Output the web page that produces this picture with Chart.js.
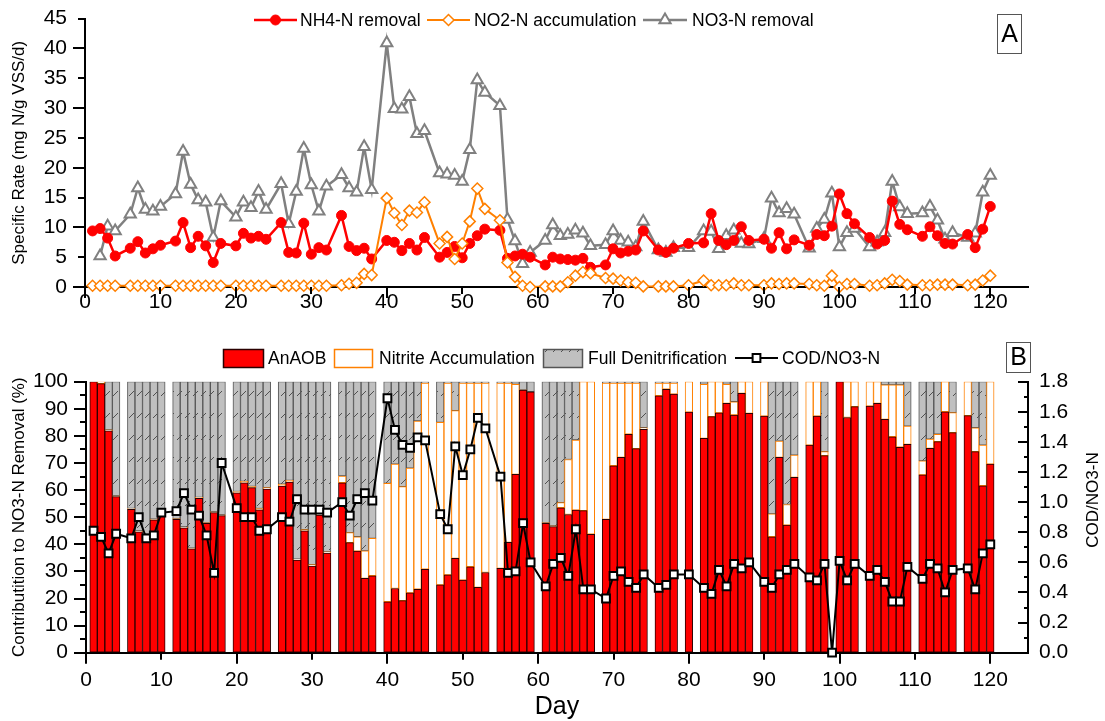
<!DOCTYPE html>
<html>
<head>
<meta charset="utf-8">
<script src="https://cdn.jsdelivr.net/npm/chart.js@4.4.0/dist/chart.umd.min.js"></script>
<style>
  html, body { margin: 0; padding: 0; background: #fff; }
  #wrap { position: relative; width: 1105px; height: 721px; }
  #topBox { position: absolute; left: 0; top: 0; width: 1105px; height: 335px; }
  #botBox { position: absolute; left: 0; top: 335px; width: 1105px; height: 386px; }
</style>
</head>
<body>
<div id="wrap">
  <div id="topBox"><canvas id="rateChart"></canvas></div>
  <div id="botBox"><canvas id="contribChart"></canvas></div>
</div>
<script>
// sampling days (reactor operation)
const days = [
  1, 2, 3, 4,
  6, 7, 8, 9, 10,
  12, 13, 14, 15, 16, 17, 18,
  20, 21, 22, 23, 24,
  26, 27, 28, 29, 30, 31, 32,
  34, 35, 36, 37, 38,
  40, 41, 42, 43, 44, 45,
  47, 48, 49, 50, 51, 52, 53,
  55, 56, 57, 58, 59,
  61, 62, 63, 64, 65, 66, 67,
  69, 70, 71, 72, 73, 74,
  76, 77, 78,
  80,
  82, 83, 84, 85, 86, 87, 88,
  90, 91, 92, 93, 94,
  96, 97, 98, 99, 100, 101, 102,
  104, 105, 106, 107, 108, 109,
  111, 112, 113, 114, 115,
  117, 118, 119, 120
];

// panel A, mg N/g VSS/d
const nh4Removal = [
  9.4, 9.8, 8.2, 5.2,
  6.5, 7.6, 5.7, 6.4, 7.0,
  7.7, 10.8, 6.6, 8.5, 6.9, 4.1, 7.3,
  6.9, 9.0, 8.2, 8.5, 8.0,
  10.8, 5.8, 5.7, 10.7, 5.5, 6.6, 6.2,
  12.0, 6.8, 6.1, 6.5, 4.7,
  7.8, 7.5, 6.1, 7.3, 6.2, 8.3,
  5.0, 5.8, 6.8, 4.9, 7.3, 8.6, 9.7,
  9.5, 4.8, 5.2, 5.5, 5.0,
  3.7, 5.0, 4.7, 4.6, 4.5, 4.8, 3.3,
  3.7, 6.4, 5.7, 6.0, 6.2, 9.4,
  6.2, 5.8, 6.5,
  7.3,
  7.4, 12.3, 7.8, 7.1, 7.8, 10.1, 7.8,
  8.0, 6.5, 9.1, 6.4, 7.9,
  7.0, 8.8, 8.6, 10.2, 15.6, 12.3, 10.6,
  8.3, 7.2, 7.8, 14.4, 10.5, 9.6,
  8.5, 10.1, 8.6, 7.3, 7.2,
  8.8, 6.6, 9.7, 13.5
];
const no2Accum = [
  0.2, 0.2, 0.2, 0.2,
  0.2, 0.2, 0.2, 0.2, 0.2,
  0.2, 0.2, 0.2, 0.2, 0.2, 0.2, 0.2,
  0.2, 0.2, 0.2, 0.2, 0.2,
  0.2, 0.2, 0.2, 0.2, 0.2, 0.2, 0.2,
  0.3, 0.55, 0.7, 2.2, 2.0,
  14.9, 12.4, 10.4, 12.8, 12.5, 14.2,
  7.3, 8.4, 4.7, 7.3, 11.0, 16.5, 13.1,
  11.2, 4.1, 1.7, 0.2, 0.0,
  0.1, 0.1, 0.1, 0.8, 1.9, 2.5, 2.3,
  1.5, 1.4, 1.1, 0.8, 0.7, 0.1,
  0.1, 0.1, 0.1,
  0.3,
  1.1, 0.3, 0.3, 0.3, 0.6, 0.3, 0.3,
  0.3, 0.6, 0.5, 0.6, 0.6,
  0.5, 0.3, 0.2, 1.9, 0.0, 0.5, 0.5,
  0.2, 0.3, 0.6, 1.2, 1.0, 0.4,
  0.3, 0.3, 0.4, 0.4, 0.4,
  0.3, 0.4, 1.1, 1.9
];
const no3Removal = [
  null, 5.2, 10.2, 9.4,
  12.2, 16.6, 13.0, 12.7, 13.5,
  15.6, 22.7, 17.2, 14.6, 14.2, 8.3, 14.4,
  11.7, 14.2, 13.3, 16.0, 13.0,
  17.3, 10.6, 16.0, 23.2, 17.1, 12.7, 16.9,
  18.8, 16.6, 15.9, 23.5, 16.3,
  40.9, 29.9, 29.8, 31.9, 25.7, 26.2,
  19.1, 18.9, 18.7, 17.7, 23.0, 34.7, 32.6,
  30.4, 11.3, 7.7, 3.9, 5.8,
  7.8, 10.4, 8.6, 8.8, 9.5, 9.0, 6.9,
  7.1, 9.4, 7.8, 7.5, 6.7, 11.0,
  6.2, 5.8, 6.6,
  6.6,
  9.4, 9.3, 6.4, 8.6, 9.5, 7.3, 7.2,
  8.1, 14.9, 12.4, 13.1, 12.2,
  6.5, 9.8, 11.3, 15.7, 6.7, 9.1, 9.8,
  6.7, 7.5, 9.1, 17.7, 13.4, 12.3,
  12.4, 13.5, 11.2, 8.0, 9.1,
  8.3, 9.0, 15.9, 18.7
];

// panel B, % of NO3-N removal
const anaobPct = [
  100, 99.3, 81.9, 57.6,
  52.9, 44.6, 43.4, 49.0, 52.0,
  49.2, 46.1, 38.3, 57.0, 47.7, 51.7, 50.6,
  59.0, 62.7, 60.9, 52.7, 60.4,
  61.5, 63.0, 34.2, 45.0, 32.0, 50.8, 36.8,
  62.7, 40.6, 37.5, 27.4, 28.4,
  18.8, 23.7, 19.2, 22.1, 23.4, 30.8,
  25.0, 28.7, 34.8, 26.8, 31.7, 24.1, 29.6,
  31.1, 40.7, 65.8, 96.9, 96.3,
  47.7, 46.5, 53.5, 51.0, 52.6, 52.4, 43.7,
  49.2, 69.0, 72.1, 80.6, 75.3, 82.4,
  94.8, 97.2, 95.4,
  88.8,
  79.1, 87.1, 88.5, 92.0, 87.7, 95.7, 88.3,
  87.3, 42.8, 72.1, 47.1, 64.7,
  76.6, 87.3, 72.7, 0, 100, 86.8, 90.8,
  91.0, 92.0, 86.1, 79.7, 75.8, 76.9,
  65.6, 75.4, 77.9, 88.9, 81.2,
  87.5, 74.2, 61.6, 69.6
];
const nitritePct = [
  0, 0.7, 0.3, 0.3,
  0.3, 0.3, 0.3, 0.3, 0.3,
  0.3, 0.3, 0.3, 0.3, 0.3, 0.3, 0.3,
  0.5, 0.5, 0.5, 0.5, 0.5,
  0.7, 0.6, 0.3, 0.4, 0.5, 0.3, 0.4,
  2.5, 3.7, 5.3, 10.2, 13.8,
  43.7, 45.9, 42.1, 46.0, 62.1, 68.7,
  60.0, 70.8, 54.5, 72.7, 67.8, 75.4, 69.9,
  68.4, 58.8, 33.2, 0.1, 0,
  0.3, 0.3, 1.9, 20.3, 25.9, 47.6, 56.3,
  50.3, 30.5, 27.4, 18.9, 24.2, 0.6,
  4.7, 2.3, 4.1,
  11.2,
  19.9, 12.9, 11.5, 7.0, 4.9, 4.3, 11.7,
  12.7, 8.4, 6.0, 7.6, 8.2,
  23.4, 12.7, 1.5, 0, 0, 13.2, 9.2,
  9.0, 8.0, 12.7, 19.1, 23.0, 6.7,
  5.2, 3.4, 2.7, 11.1, 7.4,
  12.5, 8.8, 15.0, 30.4
];
const denitPct = [
  0, 0, 17.8, 42.1,
  46.8, 55.1, 56.3, 50.7, 47.7,
  50.5, 53.6, 61.4, 42.7, 52.0, 48.0, 49.1,
  40.5, 36.8, 38.6, 46.8, 39.1,
  37.8, 36.4, 65.5, 54.6, 67.5, 48.9, 62.8,
  34.8, 55.7, 57.2, 62.4, 57.8,
  37.5, 30.4, 38.7, 31.9, 14.5, 0.5,
  15.0, 0.5, 10.7, 0.5, 0.5, 0.5, 0.5,
  0.5, 0.5, 1.0, 3.0, 3.7,
  52.0, 53.2, 44.6, 28.7, 21.5, 0, 0,
  0.5, 0.5, 0.5, 0.5, 0.5, 17.0,
  0.5, 0.5, 0.5,
  0,
  1.0, 0, 0, 1.0, 7.4, 0, 0,
  0, 48.8, 21.9, 45.3, 27.1,
  0, 0, 25.8, 0, 0, 0, 0,
  0, 0, 1.2, 1.2, 1.2, 16.4,
  29.2, 21.2, 19.4, 0, 11.4,
  0, 17.0, 23.4, 0
];
const codRatio = [
  0.81, 0.77, 0.66, 0.79,
  0.76, 0.90, 0.76, 0.78, 0.93,
  0.94, 1.06, 0.95, 0.91, 0.78, 0.53, 1.26,
  0.96, 0.90, 0.90, 0.81, 0.82,
  0.90, 0.87, 1.02, 0.95, 0.95, 0.95, 0.93,
  1.00, 0.91, 1.02, 1.06, 1.01,
  1.69, 1.48, 1.38, 1.36, 1.43, 1.41,
  0.92, 0.82, 1.37, 1.18, 1.35, 1.56, 1.49,
  1.17, 0.53, 0.54, 0.86, 0.60,
  0.44, 0.59, 0.63, 0.51, 0.82, 0.42, 0.42,
  0.36, 0.51, 0.54, 0.47, 0.43, 0.52,
  0.43, 0.45, 0.52,
  0.52,
  0.43, 0.39, 0.55, 0.44, 0.59, 0.56, 0.60,
  0.47, 0.43, 0.52, 0.55, 0.59,
  0.50, 0.48, 0.59, 0.00, 0.61, 0.48, 0.59,
  0.51, 0.55, 0.47, 0.34, 0.34, 0.57,
  0.49, 0.59, 0.56, 0.40, 0.55,
  0.56, 0.42, 0.66, 0.72
];

const rateNames = ['NH4-N removal', 'NO2-N accumulation', 'NO3-N removal'];
const contribNames = ['AnAOB', 'Nitrite Accumulation', 'Full Denitrification', 'COD/NO3-N'];
const dayTicks = [0, 10, 20, 30, 40, 50, 60, 70, 80, 90, 100, 110, 120];
const rateTicks = [0, 5, 10, 15, 20, 25, 30, 35, 40, 45];
const pctTicks = [0, 10, 20, 30, 40, 50, 60, 70, 80, 90, 100];
const codTicks = [0, 0.2, 0.4, 0.6, 0.8, 1.0, 1.2, 1.4, 1.6, 1.8];

const FONT = 'Arial, "Liberation Sans", Helvetica, sans-serif';
Chart.defaults.font.family = FONT;
Chart.defaults.color = '#000';

function pairs(values) {
    return days.map((d, i) => ({ x: d, y: values[i] }));
}

function setTicks(list) {
    return function (scale) {
        scale.ticks = list.map(v => ({ value: v }));
    };
}

// axis tick marks (major/minor, some inward)
function tickMarks(marks) {
    return {
        id: 'tickMarks',
        afterDraw(chart) {
            const ctx = chart.ctx;
            const area = chart.chartArea;
            ctx.save();
            ctx.strokeStyle = '#000';
            ctx.lineWidth = 2;
            marks.forEach(m => {
                const scale = chart.scales[m.id];
                for (let k = 0; m.from + k * m.step <= m.to + 1e-9; k++) {
                    const v = m.from + k * m.step;
                    const r = v / m.majorEvery;
                    const len = Math.abs(r - Math.round(r)) < 1e-6 ? m.majorLen : m.minorLen;
                    const p = Math.round(scale.getPixelForValue(v));
                    ctx.beginPath();
                    if (m.side === 'bottom') {
                        ctx.moveTo(p, area.bottom);
                        ctx.lineTo(p, area.bottom + len);
                    } else if (m.side === 'left') {
                        ctx.moveTo(area.left, p);
                        ctx.lineTo(area.left - len, p);
                    } else {
                        ctx.moveTo(area.right, p);
                        ctx.lineTo(area.right - len, p);
                    }
                    ctx.stroke();
                }
            });
            ctx.restore();
        }
    };
}

function drawMarker(ctx, ds, x, y) {
    ctx.fillStyle = ds.pointBackgroundColor;
    ctx.strokeStyle = ds.pointBorderColor;
    ctx.lineWidth = ds.pointBorderWidth;
    Chart.helpers.drawPoint(ctx, {
        pointStyle: ds.pointStyle,
        radius: ds.pointRadius,
        rotation: 0,
        borderWidth: ds.pointBorderWidth
    }, x, y);
}

function panelLabel(ctx, text, x, y, w, h) {
    ctx.strokeStyle = '#555';
    ctx.lineWidth = 1;
    ctx.strokeRect(x + 0.5, y + 0.5, w, h);
    ctx.fillStyle = '#000';
    ctx.font = '25px ' + FONT;
    ctx.textAlign = 'center';
    ctx.textBaseline = 'middle';
    ctx.fillText(text, x + w / 2 + 0.5, y + h / 2 + 1.5);
}

const topDecor = {
    id: 'topDecor',
    afterDraw(chart) {
        const ctx = chart.ctx;
        const items = [
            { ds: 0, x0: 254, x1: 297, tx: 300 },
            { ds: 1, x0: 427, x1: 470, tx: 474 },
            { ds: 2, x0: 643, x1: 687, tx: 692 }
        ];
        const y = 20;
        ctx.save();
        items.forEach(it => {
            const ds = chart.data.datasets[it.ds];
            ctx.strokeStyle = ds.borderColor;
            ctx.lineWidth = ds.borderWidth;
            ctx.beginPath();
            ctx.moveTo(it.x0, y);
            ctx.lineTo(it.x1, y);
            ctx.stroke();
            drawMarker(ctx, ds, (it.x0 + it.x1) / 2, y);
            ctx.fillStyle = '#000';
            ctx.font = '17.5px ' + FONT;
            ctx.textAlign = 'left';
            ctx.textBaseline = 'middle';
            ctx.fillText(ds.label, it.tx, y + 1);
        });
        panelLabel(ctx, 'A', 997, 14, 24, 39);
        ctx.restore();
    }
};

const botDecor = {
    id: 'botDecor',
    afterDraw(chart) {
        const ctx = chart.ctx;
        const sets = chart.data.datasets;
        const y = 23;
        const boxes = [
            { ds: 0, x0: 223, x1: 263, tx: 268 },
            { ds: 1, x0: 334, x1: 372, tx: 379 },
            { ds: 2, x0: 543, x1: 582, tx: 588 }
        ];
        ctx.save();
        ctx.font = '17.5px ' + FONT;
        ctx.textBaseline = 'middle';
        ctx.textAlign = 'left';
        boxes.forEach(b => {
            const ds = sets[b.ds];
            ctx.fillStyle = ds.backgroundColor;
            ctx.fillRect(b.x0, y - 9, b.x1 - b.x0, 18);
            ctx.strokeStyle = ds.borderColor;
            ctx.lineWidth = 1.5;
            ctx.strokeRect(b.x0 + 0.5, y - 9 + 0.5, b.x1 - b.x0, 18);
            ctx.fillStyle = '#000';
            ctx.fillText(ds.label, b.tx, y + 1);
        });
        const line = sets[3];
        ctx.strokeStyle = line.borderColor;
        ctx.lineWidth = line.borderWidth;
        ctx.beginPath();
        ctx.moveTo(735, y);
        ctx.lineTo(778, y);
        ctx.stroke();
        drawMarker(ctx, line, 756.5, y);
        ctx.fillStyle = '#000';
        ctx.fillText(line.label, 782, y + 1);

        // right axis title, reads bottom to top
        ctx.save();
        ctx.translate(1093, 165);
        ctx.rotate(-Math.PI / 2);
        ctx.font = '17px ' + FONT;
        ctx.textAlign = 'center';
        ctx.fillText('COD/NO3-N', 0, 0);
        ctx.restore();

        panelLabel(ctx, 'B', 1006, 7, 24, 30);
        ctx.restore();
    }
};

function hatchPattern(canvas) {
    const tile = document.createElement('canvas');
    tile.width = 8;
    tile.height = 22;
    const g = tile.getContext('2d');
    g.fillStyle = '#c0c0c0';
    g.fillRect(0, 0, 8, 22);
    g.strokeStyle = '#505050';
    g.lineWidth = 1;
    g.beginPath();
    g.moveTo(1, 17);
    g.lineTo(6, 12);
    g.stroke();
    return canvas.getContext('2d').createPattern(tile, 'repeat');
}

const hiddenGrid = { display: true, drawOnChartArea: false, color: 'rgba(0,0,0,0)' };
const axisLine = { display: true, color: '#000', width: 2 };

// ---------- panel A ----------
new Chart(document.getElementById('rateChart'), {
    type: 'line',
    data: {
        datasets: [
            {
                label: rateNames[0], data: pairs(nh4Removal), order: 1,
                borderColor: '#ff0000', borderWidth: 2.5,
                pointStyle: 'circle', pointRadius: 5,
                pointBackgroundColor: '#ff0000', pointBorderColor: '#ff0000', pointBorderWidth: 1,
                clip: false
            },
            {
                label: rateNames[1], data: pairs(no2Accum), order: 0,
                borderColor: '#ff8000', borderWidth: 2,
                pointStyle: 'rectRot', pointRadius: 5.5,
                pointBackgroundColor: '#ffffff', pointBorderColor: '#ff8000', pointBorderWidth: 1.5,
                clip: false
            },
            {
                label: rateNames[2], data: pairs(no3Removal), order: 2,
                borderColor: '#808080', borderWidth: 2.5,
                pointStyle: 'triangle', pointRadius: 6.5,
                pointBackgroundColor: '#ffffff', pointBorderColor: '#808080', pointBorderWidth: 2,
                clip: false
            }
        ]
    },
    options: {
        responsive: true,
        maintainAspectRatio: false,
        animation: false,
        layout: { padding: { left: 0, right: 77, top: 15, bottom: 0 } },
        plugins: { legend: { display: false }, tooltip: { enabled: false } },
        scales: {
            x: {
                type: 'linear', min: 0, max: 125, offset: false,
                afterBuildTicks: setTicks(dayTicks),
                afterFit: (s) => { s.height = 48; },
                grid: Object.assign({ tickLength: 3 }, hiddenGrid),
                border: axisLine,
                ticks: { font: { size: 21 }, padding: 0, autoSkip: false, maxRotation: 0 }
            },
            y: {
                min: 0, max: 45,
                afterBuildTicks: setTicks(rateTicks),
                afterFit: (s) => { s.width = 85; },
                grid: Object.assign({ tickLength: 12 }, hiddenGrid),
                border: axisLine,
                ticks: { font: { size: 21 }, padding: 6, autoSkip: false },
                title: {
                    display: true, text: 'Specific Rate (mg N/g VSS/d)',
                    font: { size: 17 }, padding: { top: 9, bottom: 0 }
                }
            }
        }
    },
    plugins: [
        tickMarks([
            { id: 'x', side: 'bottom', from: 0, to: 120, step: 10, majorEvery: 20, majorLen: 11, minorLen: 7 },
            { id: 'y', side: 'left', from: 0, to: 45, step: 5, majorEvery: 10, majorLen: 12, minorLen: 7 }
        ]),
        topDecor
    ]
});

// ---------- panel B ----------
const contribCanvas = document.getElementById('contribChart');
const barCommon = {
    type: 'bar', stack: 's', yAxisID: 'y', order: 2,
    borderWidth: 1, borderSkipped: false,
    barPercentage: 1, categoryPercentage: 1
};

new Chart(contribCanvas, {
    data: {
        datasets: [
            Object.assign({
                label: contribNames[0], data: pairs(anaobPct),
                backgroundColor: '#ff0000', borderColor: '#2a0000'
            }, barCommon),
            Object.assign({
                label: contribNames[1], data: pairs(nitritePct),
                backgroundColor: '#ffffff', borderColor: '#ff8000'
            }, barCommon),
            Object.assign({
                label: contribNames[2], data: pairs(denitPct),
                backgroundColor: hatchPattern(contribCanvas), borderColor: '#555555'
            }, barCommon),
            {
                type: 'line', label: contribNames[3], data: pairs(codRatio),
                yAxisID: 'y1', order: 0,
                borderColor: '#000000', borderWidth: 2,
                pointStyle: 'rect', pointRadius: 5.5,
                pointBackgroundColor: '#ffffff', pointBorderColor: '#000000', pointBorderWidth: 2,
                clip: false
            }
        ]
    },
    options: {
        responsive: true,
        maintainAspectRatio: false,
        animation: false,
        layout: { padding: { left: 0, right: 0, top: 46.7, bottom: 0 } },
        plugins: { legend: { display: false }, tooltip: { enabled: false } },
        scales: {
            x: {
                type: 'linear', min: 0, max: 125, stacked: true, offset: false,
                afterBuildTicks: setTicks(dayTicks),
                afterFit: (s) => { s.height = 68.3; },
                grid: Object.assign({ tickLength: 8, offset: false }, hiddenGrid),
                border: axisLine,
                ticks: { font: { size: 21 }, padding: 7, autoSkip: false, maxRotation: 0 },
                title: {
                    display: true, text: 'Day',
                    font: { size: 25, lineHeight: 1.1 }, padding: { top: 0, bottom: 0 }
                }
            },
            y: {
                min: 0, max: 100, stacked: true,
                afterBuildTicks: setTicks(pctTicks),
                afterFit: (s) => { s.width = 86; },
                grid: Object.assign({ tickLength: 12 }, hiddenGrid),
                border: axisLine,
                ticks: { font: { size: 21 }, padding: 6, autoSkip: false },
                title: {
                    display: true, text: 'Contributition to NO3-N Removal (%)',
                    font: { size: 17 }, padding: { top: 9, bottom: 0 }
                }
            },
            y1: {
                position: 'right', min: 0, max: 1.8,
                afterBuildTicks: setTicks(codTicks),
                afterFit: (s) => { s.width = 77; },
                grid: Object.assign({ tickLength: 5 }, hiddenGrid),
                border: axisLine,
                ticks: { font: { size: 21 }, padding: 6, autoSkip: false, callback: (v) => Number(v).toFixed(1) }
            }
        }
    },
    plugins: [
        tickMarks([
            { id: 'x', side: 'bottom', from: 0, to: 120, step: 10, majorEvery: 20, majorLen: 11, minorLen: 7 },
            { id: 'y', side: 'left', from: 0, to: 100, step: 5, majorEvery: 10, majorLen: 12, minorLen: 6 },
            { id: 'y1', side: 'right', from: 0, to: 1.8, step: 0.1, majorEvery: 0.2, majorLen: 10, minorLen: 4 }
        ]),
        botDecor
    ]
});
</script>
</body>
</html>
